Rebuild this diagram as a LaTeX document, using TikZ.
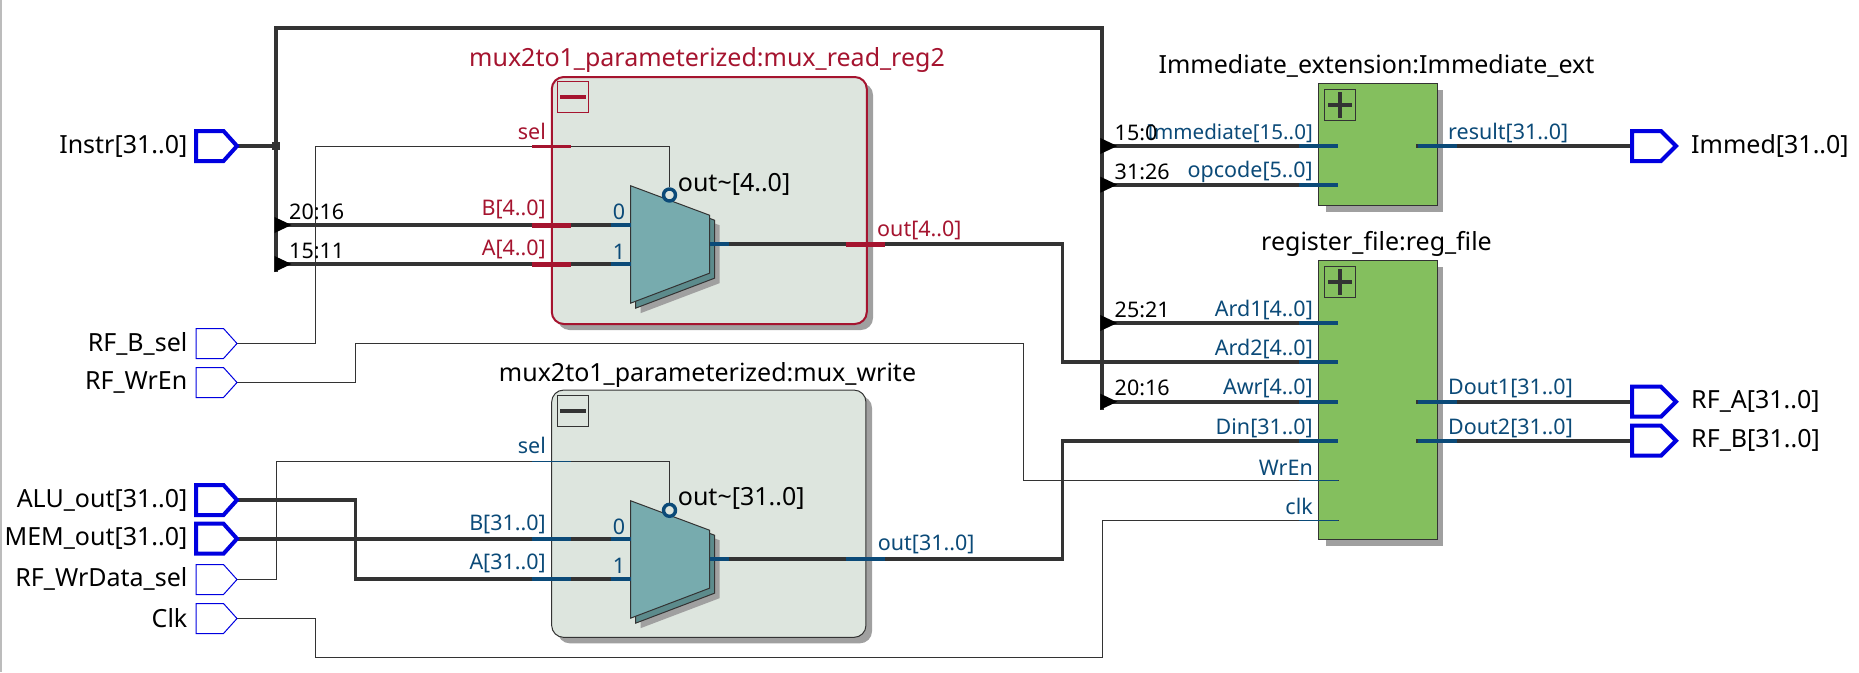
\documentclass[tikz,border=0pt]{standalone}
\usepackage{fontspec}
\setmainfont{Noto Sans}
\usetikzlibrary{positioning}
\definecolor{wirec}{HTML}{333333}
\definecolor{redc}{HTML}{A5142F}
\definecolor{bluec}{HTML}{0B4A78}
\definecolor{portc}{HTML}{0000E0}
\definecolor{greenc}{HTML}{84BF5E}
\definecolor{modc}{HTML}{DDE5DE}
\definecolor{muxc}{HTML}{77ABAE}
\definecolor{muxd}{HTML}{5C8B8C}
\definecolor{shadowc}{HTML}{A0A0A0}
\tikzset{
  bus/.style={draw=wirec,line width=3.8pt},
  wire/.style={draw=wirec,line width=1pt},
  big/.style={font=\fontsize{25}{27}\selectfont,text=black,inner sep=0pt,yshift=-1.5pt},
  small/.style={font=\fontsize{21.5}{24}\selectfont,inner sep=0pt,yshift=-1.5pt},
  rlab/.style={small,text=redc},
  blab/.style={small,text=bluec},
  modbox/.style={rectangle,rounded corners=12pt,fill=modc,inner sep=0pt,minimum width=315pt,minimum height=247pt},
  greenbox/.style={rectangle,fill=greenc,draw=wirec,line width=1pt,inner sep=0pt,minimum width=119pt},
  togglebox/.style={rectangle,draw=#1,line width=1pt,inner sep=0pt,minimum width=31pt,minimum height=31pt},
  bubble/.style={circle,draw=bluec,line width=3.4pt,fill=modc,inner sep=0pt,minimum size=12pt},
  portin/.pic={\draw[pic actions,line join=miter] (-41,-15) -- (-13.5,-15) -- (0,0) -- (-13.5,15) -- (-41,15) -- cycle;},
  portout/.pic={\draw[pic actions,line join=miter] (0,-15) -- (29,-15) -- (44,0) -- (29,15) -- (0,15) -- cycle;},
  muxlayers/.pic={
    \fill[shadowc] (10,10) -- (89,39.5) -- (89,97.5) -- (10,127.5) -- cycle;
    \draw[fill=muxd,draw=wirec,line width=1pt] (5,5) -- (84,34.5) -- (84,92.5) -- (5,122.5) -- cycle;
    \draw[fill=muxc,draw=wirec,line width=1pt] (0,0) -- (79,29.5) -- (79,87.5) -- (0,117.5) -- cycle;
  }
}
\newcommand{\stub}[3]{\draw[#2,line width=#3] (#1) ++(-19.5,0) -- ++(39,0);}
\newcommand{\hstub}[3]{\draw[#2,line width=#3] (#1) -- ++(19.5,0);}
\newcommand{\lstub}[3]{\draw[#2,line width=#3] (#1) -- ++(-20,0);}
\newcommand{\tap}[1]{\fill[black] (#1) ++(-1.5,-8) -- ++(17,8) -- ++(-17,8) -- cycle;}
\begin{document}
\begin{tikzpicture}[x=1pt,y=-1pt]
\useasboundingbox (0,0) rectangle (1859,672);
\draw[shadowc!70!white,line width=2pt] (1,0) -- (1,672);
% ---- positions
\coordinate (pinstr) at (237,146);
\coordinate (pbsel) at (237,343.5);
\coordinate (pwren) at (237,382.5);
\coordinate (palu) at (237,500);
\coordinate (pmem) at (237,538.7);
\coordinate (pwds) at (237,579.5);
\coordinate (pclk) at (237,618.5);
\coordinate (pimm) at (1632,146);
\coordinate (prfa) at (1632,401.7);
\coordinate (prfb) at (1632,440.7);
\coordinate (jn) at (276,146);
\coordinate (tl) at (276,28);
\coordinate (tr) at (1101.8,28);
\coordinate (sb) at (276,225);
\coordinate (sa) at (276,264);
\coordinate (send) at (276,272);
\coordinate (rimm) at (1101.8,146);
\coordinate (rop) at (1101.8,184.7);
\coordinate (rar1) at (1101.8,323);
\coordinate (rawr) at (1101.8,401.7);
\coordinate (rend) at (1101.8,410);
\coordinate (m1sel) at (551.7,146.5);
\coordinate (m1b) at (551.7,225);
\coordinate (m1a) at (551.7,264);
\coordinate (m1o) at (865.5,244);
\coordinate (m2sel) at (551.7,461.5);
\coordinate (m2b) at (551.7,538.7);
\coordinate (m2a) at (551.7,578.7);
\coordinate (m2o) at (865.5,558.7);
\coordinate (x1i0) at (630.5,225);
\coordinate (x1i1) at (630.5,264);
\coordinate (x1o) at (709.5,244);
\coordinate (x2i0) at (630.5,538.7);
\coordinate (x2i1) at (630.5,578.7);
\coordinate (x2o) at (709.5,558.7);
\coordinate (iimm) at (1318,146);
\coordinate (iop) at (1318,184.7);
\coordinate (ires) at (1437,146);
\coordinate (rard1) at (1318,323);
\coordinate (rard2) at (1318,361.7);
\coordinate (rrawr) at (1318,401.7);
\coordinate (rdin) at (1318,440.7);
\coordinate (rwren) at (1318,480.5);
\coordinate (rclk) at (1318,520.5);
\coordinate (rdo1) at (1437,401.7);
\coordinate (rdo2) at (1437,440.7);
\coordinate (wb1) at (315.5,146.5);
\coordinate (wb2) at (355.5,343.5);
\coordinate (wb3) at (1023.5,480.5);
\coordinate (wb4) at (276.5,461.5);
\coordinate (wb5) at (315.5,657.5);
\coordinate (wb6) at (1102.5,657.5);
\coordinate (wb7) at (355.5,500);
\coordinate (wb8) at (1062.5,361.7);
\coordinate (wb9) at (1062.5,440.7);
% ---- shadows and module boxes
\fill[shadowc,rounded corners=12pt] (557.5,83) rectangle (873,330);
\node[modbox,draw=redc,line width=2pt,minimum width=315pt,minimum height=247pt] (m1) at (709.3,200.5) {};
\fill[shadowc,rounded corners=12pt] (557.7,396) rectangle (872,643.3);
\node[modbox,draw=wirec,line width=1pt,minimum width=314.3pt,minimum height=247.3pt] (m2) at (708.8,513.7) {};
\fill[shadowc] (1326,90) rectangle (1443,211.7);
\node[greenbox,minimum height=122.4pt] (imm) at (1377.5,144.5) {};
\fill[shadowc] (1326,267) rectangle (1443,545.7);
\node[greenbox,minimum height=279pt] (reg) at (1377.5,399.8) {};
% ---- toggle boxes
\node[togglebox=redc] (t1) at (573,97) {};
\draw[redc,line width=4pt] (560,97) -- (586,97);
\node[togglebox=wirec] (t2) at (573,411) {};
\draw[wirec,line width=4pt] (560,411) -- (586,411);
\node[togglebox=wirec] (t3) at (1340,105) {};
\draw[wirec,line width=3.5pt] (1328,105) -- (1352,105) (1340,92) -- (1340,118);
\node[togglebox=wirec] (t4) at (1340,282) {};
\draw[wirec,line width=3.5pt] (1328,282) -- (1352,282) (1340,269) -- (1340,295);
% ---- mux shapes
\pic at (630.5,185.7) {muxlayers};
\pic at (630.5,500.7) {muxlayers};
\node[bubble] (b1) at (669.5,195) {};
\node[bubble] (b2) at (669.5,510.3) {};
% ---- thin wires
\draw[wire] (pbsel) -| (wb1) -- (m1sel) -| (b1.north);
\draw[wire] (pwren) -| (wb2) -| (wb3) |- (rwren) -- ++(21,0);
\draw[wire] (pwds) -| (wb4) -| (b2.north);
\draw[wire] (pclk) -| (wb5) -- (wb6) |- (rclk) -- ++(21,0);
% ---- buses
\draw[bus] (pinstr) -- (jn);
\draw[bus] (send) -- (tl) -- (tr) -- (rend);
\draw[bus] (sb) -- (x1i0);
\draw[bus] (sa) -- (x1i1);
\draw[bus] (x1o) -- (m1o) -- ++(19.5,0) -| (wb8) -- (rard2) -- ++(20,0);
\draw[bus] (x2o) -- (m2o) -- ++(19.5,0) -| (wb9) -- (rdin) -- ++(20,0);
\draw[bus] (pmem) -- (x2i0);
\draw[bus] (palu) -- (wb7) |- (x2i1);
\draw[bus] (rimm) -- (iimm) -- ++(20,0);
\draw[bus] (rop) -- (iop) -- ++(20,0);
\draw[bus] (rar1) -- (rard1) -- ++(20,0);
\draw[bus] (rawr) -- (rrawr) -- ++(20,0);
\draw[bus] (ires) ++(-21,0) -- (pimm);
\draw[bus] (rdo1) ++(-21,0) -- (prfa);
\draw[bus] (rdo2) ++(-21,0) -- (prfb);
\fill[wirec] (jn) ++(-4,-4) rectangle ++(8,8);
% ---- tap arrows
\tap{sb}\tap{sa}\tap{rimm}\tap{rop}\tap{rar1}\tap{rawr}
% ---- pin stubs
\stub{m1sel}{redc}{2.5pt}
\stub{m1b}{redc}{5pt}
\stub{m1a}{redc}{5pt}
\stub{m1o}{redc}{5pt}
\stub{m2sel}{bluec}{1pt}
\stub{m2b}{bluec}{3.8pt}
\stub{m2a}{bluec}{3.8pt}
\stub{m2o}{bluec}{3.8pt}
\lstub{x1i0}{bluec}{3.8pt}
\lstub{x1i1}{bluec}{3.8pt}
\lstub{x2i0}{bluec}{3.8pt}
\lstub{x2i1}{bluec}{3.8pt}
\hstub{x1o}{bluec}{3.8pt}
\hstub{x2o}{bluec}{3.8pt}
\stub{iimm}{bluec}{3.8pt}
\stub{iop}{bluec}{3.8pt}
\stub{ires}{bluec}{3.8pt}
\stub{rard1}{bluec}{3.8pt}
\stub{rard2}{bluec}{3.8pt}
\stub{rrawr}{bluec}{3.8pt}
\stub{rdin}{bluec}{3.8pt}
\stub{rwren}{bluec}{1pt}
\stub{rclk}{bluec}{1pt}
\stub{rdo1}{bluec}{3.8pt}
\stub{rdo2}{bluec}{3.8pt}
% ---- ports
\pic[draw=portc,line width=4pt] at (pinstr) {portin};
\pic[draw=portc,line width=1pt] at (pbsel) {portin};
\pic[draw=portc,line width=1pt] at (pwren) {portin};
\pic[draw=portc,line width=4pt] at (palu) {portin};
\pic[draw=portc,line width=4pt] at (pmem) {portin};
\pic[draw=portc,line width=1pt] at (pwds) {portin};
\pic[draw=portc,line width=1pt] at (pclk) {portin};
\pic[draw=portc,line width=4pt] at (pimm) {portout};
\pic[draw=portc,line width=4pt] at (prfa) {portout};
\pic[draw=portc,line width=4pt] at (prfb) {portout};
% ---- port labels
\node[big,anchor=east] (lb1) at (187.5,145) {Instr[31..0]};
\node[big,anchor=east] (lb2) at (187.5,342) {RF\_B\_sel};
\node[big,anchor=east] (lb3) at (187.5,381) {RF\_WrEn};
\node[big,anchor=east] (lb4) at (187.5,499) {ALU\_out[31..0]};
\node[big,anchor=east] (lb5) at (187.5,537) {MEM\_out[31..0]};
\node[big,anchor=east] (lb6) at (187.5,577) {RF\_WrData\_sel};
\node[big,anchor=east] (lb7) at (187.5,617) {Clk};
\node[big,anchor=west] (lb8) at (1691,144) {Immed[31..0]};
\node[big,anchor=west] (lb9) at (1691,400) {RF\_A[31..0]};
\node[big,anchor=west] (lb10) at (1691,439) {RF\_B[31..0]};
% ---- titles
\node[big,anchor=center,text=redc] (ti1) at (707,58.5) {mux2to1\_parameterized:mux\_read\_reg2};
\node[big,anchor=center] (ti2) at (707.5,373) {mux2to1\_parameterized:mux\_write};
\node[big,anchor=center] (ti3) at (1376.5,64) {Immediate\_extension:Immediate\_ext};
\node[big,anchor=center] (ti4) at (1376.5,242.7) {register\_file:reg\_file};
\node[big,anchor=west] (ot1) at (677.7,183) {out\textasciitilde[4..0]};
\node[big,anchor=west] (ot2) at (677.7,497) {out\textasciitilde[31..0]};
% ---- module pin labels
\node[rlab,anchor=east] (a1) at (546,130) {sel};
\node[rlab,anchor=east] (a2) at (546,208) {B[4..0]};
\node[rlab,anchor=east] (a3) at (546,248) {A[4..0]};
\node[rlab,anchor=west] (a4) at (877,229) {out[4..0]};
\node[blab,anchor=east] (a5) at (546,444) {sel};
\node[blab,anchor=east] (a6) at (546,522.7) {B[31..0]};
\node[blab,anchor=east] (a7) at (546,561.7) {A[31..0]};
\node[blab,anchor=west] (a8) at (877.7,543) {out[31..0]};
\node[blab] (n1) at (619,210) {0};
\node[blab] (n2) at (619,250) {1};
\node[blab] (n3) at (619,525) {0};
\node[blab] (n4) at (619,564) {1};
\node[blab,anchor=east,font=\fontsize{20.6}{24}\selectfont] (c1) at (1313,131.7) {Immediate[15..0]};
\node[blab,anchor=east] (c2) at (1313,170.7) {opcode[5..0]};
\node[blab,anchor=west] (c3) at (1448,131.7) {result[31..0]};
\node[blab,anchor=east] (c4) at (1313,308.7) {Ard1[4..0]};
\node[blab,anchor=east] (c5) at (1313,347.3) {Ard2[4..0]};
\node[blab,anchor=east] (c6) at (1313,386.7) {Awr[4..0]};
\node[blab,anchor=east] (c7) at (1313,426.7) {Din[31..0]};
\node[blab,anchor=east] (c8) at (1313,466) {WrEn};
\node[blab,anchor=east] (c9) at (1313,505.3) {clk};
\node[blab,anchor=west] (c10) at (1448,386.7) {Dout1[31..0]};
\node[blab,anchor=west] (c11) at (1448,426.7) {Dout2[31..0]};
% ---- bus slice labels
\node[small,anchor=west] (s1) at (289,210) {20:16};
\node[small,anchor=west] (s2) at (289,249) {15:11};
\node[small,anchor=west] (s3) at (1114.5,131.7) {15:0};
\node[small,anchor=west] (s4) at (1114.5,170.7) {31:26};
\node[small,anchor=west] (s5) at (1114.5,308.7) {25:21};
\node[small,anchor=west] (s6) at (1114.5,386.7) {20:16};
\end{tikzpicture}
\end{document}
